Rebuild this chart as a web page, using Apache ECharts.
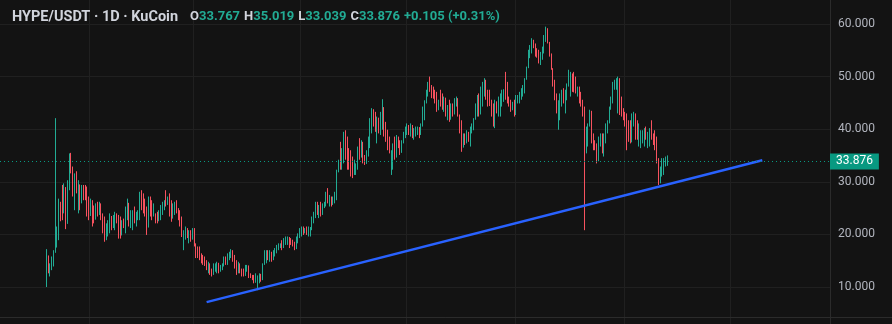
<!DOCTYPE html>
<html>
<head>
<meta charset="utf-8">
<script src="https://cdn.jsdelivr.net/npm/echarts@6/dist/echarts.min.js"></script>
<style>
  html, body { margin: 0; padding: 0; background: #131313; }
  #chart { width: 892px; height: 324px; }
</style>
</head>
<body>
<div id="chart"></div>
<script>
// ---- data (daily candles, HYPE/USDT, KuCoin) ----
const firstOpen = 13.0;
const highs = [
17.2,15.1,14.5,15.8,17.0,42.1,21.5,26.8,26.2,29.4,29.7,28.4,30.3,35.4,35.5,32.9,31.6,32.0,30.3,29.1,
29.4,29.4,29.4,29.1,27.2,26.8,26.5,25.5,25.9,26.2,26.2,25.9,24.0,23.4,22.1,22.7,24.0,23.5,23.7,24.3,
24.0,23.7,23.4,22.7,23.0,25.3,26.8,26.0,24.6,24.6,25.3,24.3,24.6,28.1,28.4,27.8,26.8,25.3,27.2,27.2,
26.5,25.9,24.0,24.3,24.6,25.6,26.2,
26.5,28.4,27.2,27.8,26.5,25.9,26.2,26.5,25.0,24.6,23.4,20.8,21.5,21.2,20.8,20.8,21.2,21.2,18.3,17.7,
17.7,16.4,16.1,15.8,15.1,14.8,14.5,13.5,14.5,14.5,14.8,14.6,14.2,14.5,15.8,15.8,16.4,16.7,17.2,17.0,
16.1,15.1,14.8,14.5,13.5,13.5,14.2,14.2,14.1,12.6,12.3,12.3,12.6,12.2,12.6,12.5,14.5,17.0,17.0,17.0,
17.0,16.7,17.0,17.4,18.0,18.3,18.3,18.9,19.3,19.6,19.6,19.5,
19.3,19.0,18.6,19.6,20.2,21.2,21.5,21.5,21.2,21.5,21.5,21.4,23.4,24.3,26.2,26.2,25.6,26.2,25.9,26.2,
28.1,28.8,27.5,27.2,27.2,28.1,32.3,34.2,37.6,36.4,39.5,39.8,38.6,36.4,36.0,34.8,34.2,33.5,36.7,38.3,
37.9,37.6,35.1,36.0,38.6,42.1,44.0,43.8,43.3,42.4,42.2,43.3,45.7,44.2,41.4,39.9,38.6,36.0,37.3,38.6,
38.9,38.6,37.9,37.9,39.5,40.5,41.1,40.8,41.1,40.8,40.2,
40.5,40.5,40.4,41.1,44.3,45.5,47.5,49.0,50.0,48.4,48.1,47.5,47.1,45.6,47.5,46.8,46.2,46.0,44.6,45.6,
44.9,44.9,45.9,46.2,45.9,42.8,41.7,39.2,39.2,39.8,39.5,40.5,41.1,42.1,44.9,46.5,46.8,48.1,49.0,49.7,
49.4,47.5,47.5,45.6,44.9,45.6,45.3,46.2,46.8,47.5,47.6,50.9,49.0,46.2,45.6,45.2,45.6,46.5,46.5,47.1,
47.8,48.4,49.7,51.9,55.1,56.0,57.3,57.0,56.3,55.4,55.1,
54.7,55.7,57.9,59.5,59.2,56.6,54.4,51.6,49.4,46.8,45.5,46.8,47.5,47.8,47.5,48.7,51.3,50.9,50.6,50.9,
50.0,48.1,48.1,47.1,45.6,44.3,40.5,41.1,43.7,43.5,39.2,37.9,37.3,38.6,39.2,39.2,39.2,41.1,41.7,44.3,
46.2,49.0,49.4,49.7,50.0,49.7,46.2,44.0,43.3,43.0,41.7,41.7,43.0,43.3,43.0,41.7,41.1,39.8,39.8,40.2,
40.5,39.5,40.2,41.7,39.2,39.8,38.6,34.5,32.9,34.5,34.5,34.8,35.019
];
const lows = [
10.0,12.6,12.0,13.2,13.9,16.5,17.5,18.9,22.5,22.7,24.0,21.0,22.0,28.4,31.6,27.2,24.6,27.8,24.0,24.6,
25.9,26.5,26.5,23.4,22.7,23.5,21.5,22.1,22.8,23.4,23.7,22.7,20.2,18.6,18.9,19.6,20.2,20.8,21.2,20.8,
22.1,19.2,19.2,19.8,21.2,20.2,22.7,21.5,21.2,20.8,22.1,21.5,22.7,22.7,24.6,24.0,23.4,19.9,21.3,23.4,
22.7,23.4,22.1,22.1,22.5,22.7,23.7,
24.6,25.3,25.6,23.4,22.4,23.0,23.7,24.0,22.7,21.5,19.5,17.0,19.0,19.3,18.3,18.6,19.0,17.7,15.5,15.5,
15.1,14.5,14.2,14.0,13.2,12.6,12.3,12.0,12.3,12.9,12.6,12.6,12.9,13.2,13.9,14.2,14.2,15.1,15.5,14.8,
13.5,12.3,12.6,12.6,12.0,12.0,12.1,12.9,11.7,11.7,11.3,10.7,10.8,9.4,10.7,11.0,11.3,14.2,14.5,15.1,
14.8,14.8,15.1,15.8,16.4,17.0,17.4,17.0,17.4,18.0,18.0,17.4,
18.0,17.7,17.0,17.2,18.3,19.3,19.6,19.9,20.2,19.9,19.6,19.6,20.8,22.1,23.1,23.7,23.1,23.4,23.7,25.0,
25.3,25.9,25.3,25.3,25.6,25.9,26.5,31.8,32.3,32.3,33.5,34.2,32.3,32.3,31.0,30.7,31.3,31.3,32.3,34.2,
34.6,33.5,33.2,33.4,34.8,36.4,39.2,40.5,39.5,37.3,39.2,38.9,39.9,38.6,37.6,36.0,35.4,31.3,32.3,34.2,
34.6,36.4,35.1,35.5,37.3,38.3,38.9,38.9,38.6,38.3,38.0,
38.6,38.9,38.3,38.9,40.5,41.7,44.9,46.2,47.1,45.9,45.8,44.9,43.3,43.6,44.3,43.7,43.3,42.4,41.7,41.4,
41.8,42.4,42.8,44.3,42.4,39.2,35.7,36.5,37.0,37.3,37.6,36.7,39.2,39.8,41.8,42.4,42.4,42.8,44.3,46.2,
45.6,44.3,44.4,42.4,40.5,40.2,43.0,42.4,42.4,44.3,45.2,45.6,44.9,44.3,43.3,43.6,42.4,42.7,44.9,44.9,
45.6,46.2,46.8,49.4,51.6,53.5,54.4,55.4,53.8,53.6,52.5,
52.2,53.2,54.4,56.6,56.3,53.8,51.3,48.1,45.5,43.0,39.9,41.7,44.3,44.9,43.0,45.5,48.1,46.2,47.1,47.0,
46.8,46.2,44.9,44.3,42.4,20.8,35.4,36.7,40.5,37.3,36.0,36.0,33.5,33.9,36.7,35.4,34.8,37.3,39.2,41.1,
43.7,44.9,47.5,47.5,43.0,42.7,42.4,41.7,40.5,36.0,37.6,37.3,37.5,40.5,38.0,38.0,36.7,36.4,37.3,36.7,
38.0,36.4,36.7,38.0,37.0,36.0,33.5,29.4,29.7,31.0,31.3,32.9,33.039
];
const closes = [
16.0,13.5,14.0,15.5,16.8,19.0,21.0,26.0,25.0,24.0,29.0,22.0,29.5,34.5,32.0,28.0,31.0,28.5,29.5,26.0,
29.0,28.5,27.0,24.0,23.5,26.0,25.5,23.0,25.5,24.0,25.5,23.0,21.0,19.5,21.5,22.0,23.5,21.5,23.0,24.0,
22.5,20.0,19.8,22.0,21.8,24.8,26.0,22.5,24.0,24.2,22.6,24.0,24.3,27.5,25.5,25.0,24.0,21.5,26.5,26.0,
23.5,23.8,23.2,22.8,24.3,25.2,26.0,
26.3,25.6,27.0,24.0,23.0,25.5,26.0,24.5,23.2,22.0,19.8,20.5,21.2,19.6,20.5,19.0,21.0,18.0,16.0,15.8,
15.3,14.8,14.5,14.2,13.5,14.5,12.6,12.3,14.2,14.4,14.6,12.9,14.0,14.3,15.6,14.5,16.2,16.5,17.0,15.2,
13.8,12.6,14.5,12.9,12.3,12.1,14.0,14.1,12.0,11.8,11.5,11.0,11.2,11.8,12.5,11.3,14.3,16.8,16.9,15.5,
16.7,15.2,16.8,17.2,17.8,18.1,18.2,17.5,19.0,19.4,19.5,19.0,
18.3,18.0,17.4,19.3,19.9,21.0,21.3,20.2,21.0,20.1,21.2,21.3,23.2,24.0,25.9,24.0,25.4,23.8,25.7,26.0,
27.9,26.2,27.2,25.6,27.0,27.6,32.0,33.8,32.8,36.0,39.2,34.8,34.0,33.0,31.8,31.3,32.5,33.3,36.4,34.8,
37.5,34.0,33.5,35.8,38.3,41.8,43.6,41.0,40.0,42.0,39.6,43.0,44.0,39.0,38.0,36.4,35.5,35.8,37.0,34.6,
38.6,36.7,35.5,37.6,39.2,40.2,40.8,39.2,40.8,38.6,39.9,
40.1,40.3,39.0,40.9,44.0,45.2,47.2,48.7,47.5,46.3,46.0,45.3,43.8,45.3,44.7,44.1,45.9,42.8,44.3,41.8,
44.6,42.8,45.6,45.9,42.8,39.6,36.5,38.9,37.4,39.5,38.0,40.2,40.8,41.8,44.6,46.2,42.8,47.8,48.7,49.4,
46.0,44.7,44.6,42.8,40.9,45.3,43.4,45.9,46.5,47.2,47.4,46.0,45.3,44.7,43.7,44.9,42.8,46.2,46.3,46.8,
47.5,48.1,49.4,51.6,54.8,55.7,57.0,55.7,54.2,53.9,52.8,
54.4,55.4,57.6,59.0,56.6,54.1,51.6,48.4,45.8,43.3,45.2,46.5,47.2,45.3,47.2,48.4,49.0,50.6,47.5,47.2,
47.0,47.8,45.3,44.6,43.0,37.5,40.2,40.8,43.4,37.8,36.4,36.2,33.9,38.3,38.9,35.8,38.9,40.8,41.4,44.0,
45.9,48.7,49.1,49.4,49.7,43.1,42.8,42.0,40.8,38.0,37.8,37.5,42.7,43.0,38.4,38.2,39.0,39.5,39.6,40.0,
38.3,39.2,40.0,38.3,37.3,36.4,33.9,30.5,32.5,33.0,33.5,33.767,33.876
];
// leading empty days before the first candle, and days shown in total on the time axis
const padDays = 26;
const totalDays = 472;
// month boundaries drawn as vertical grid lines (day index from first candle)
const monthLineDays = [25, 84, 145, 205, 267, 329, 389];
// trend line anchor points (day index, price)
const trendDays = [91, 407];
const trendValues = [7.13, 34.11];
// price axis
const priceTicks = [0, 10, 20, 30, 40, 50, 60, 70];
const lastPrice = 33.876;
const headerName = 'HYPE/USDT · 1D · KuCoin';
const headerOHLC = [['O', '33.767'], ['H', '35.019'], ['L', '33.039'], ['C', '33.876']];
const headerChange = '+0.105 (+0.31%)';

const UP = '#22ab94', DOWN = '#f7525f';
const LABEL_GREEN = '#089981';

const categories = [];
for (let k = 0; k < totalDays; k++) categories.push(String(k - padDays));

const candleData = closes.map((c, i) => {
  const o = i === 0 ? firstOpen : closes[i - 1];
  const h = Math.max(highs[i], o, c);
  const l = Math.min(lows[i], o, c);
  return [i + padDays, o, c, l, h];
});

const gridSet = new Set(monthLineDays.map(d => d + padDays));

let headerText = '{n|' + headerName + '}{sp|}';
headerOHLC.forEach(([k, v]) => { headerText += '{k|' + k + '}{g|' + v + '}{sp2|}'; });
headerText += '{g|' + headerChange + '}';

const chart = echarts.init(document.getElementById('chart'), null, { renderer: 'canvas' });
const FONT = 'Roboto, "Noto Sans", sans-serif';

chart.setOption({
  backgroundColor: '#131313',
  animation: false,
  title: {
    left: 7, top: 3,
    text: headerText,
    textStyle: {
      fontFamily: FONT,
      rich: {
        n: { fontSize: 14.5, color: '#d1d4dc', fontFamily: FONT },
        sp: { width: 12 },
        sp2: { width: 4 },
        k: { fontSize: 13, color: '#d1d4dc', fontFamily: FONT },
        g: { fontSize: 13, color: UP, fontFamily: FONT }
      }
    }
  },
  grid: [
    { left: 0, top: -28.6, width: 830, height: 368.2, containLabel: false, outerBoundsMode: 'none' },
    { left: 0, right: 0, top: 0, height: 317, outerBoundsMode: 'none' }
  ],
  xAxis: [
    {
      type: 'category', gridIndex: 0, data: categories, boundaryGap: true,
      axisLine: { show: false }, axisTick: { show: false }, axisLabel: { show: false },
      splitLine: {
        show: true,
        interval: (index) => gridSet.has(index),
        lineStyle: { color: '#202020', width: 1 }
      }
    },
    {
      type: 'category', gridIndex: 1, data: ['x'],
      axisLine: { show: true, lineStyle: { color: '#2b2b2b', width: 1 } },
      axisTick: { show: false }, axisLabel: { show: false }, splitLine: { show: false }
    }
  ],
  yAxis: [
    {
      type: 'value', gridIndex: 0, position: 'right',
      min: priceTicks[0], max: priceTicks[priceTicks.length - 1], interval: 10,
      axisLine: { show: true, lineStyle: { color: '#2b2b2b', width: 1 } },
      axisTick: { show: false },
      axisLabel: {
        color: '#b2b5be', fontSize: 12, margin: 8, fontFamily: FONT,
        formatter: (v) => v.toFixed(3)
      },
      splitLine: { show: true, lineStyle: { color: '#202020', width: 1 } }
    },
    { type: 'value', gridIndex: 1, show: false }
  ],
  series: [
    {
      type: 'candlestick',
      xAxisIndex: 0, yAxisIndex: 0,
      data: candleData,
      encode: { x: 0, y: [1, 2, 3, 4] },
      barWidth: 0.2,
      itemStyle: {
        color: UP, color0: DOWN, borderColor: UP, borderColor0: DOWN, borderWidth: 1
      },
      markLine: {
        silent: true,
        symbol: ['none', 'none'],
        data: [{ yAxis: lastPrice }],
        lineStyle: { color: LABEL_GREEN, type: [1, 3], width: 1 },
        label: {
          show: true, position: 'end', distance: 0,
          formatter: () => lastPrice.toFixed(3),
          backgroundColor: LABEL_GREEN, color: '#ffffff',
          fontSize: 12, fontFamily: FONT, padding: [2, 6, 2, 6]
        }
      },
      z: 2
    },
    {
      type: 'line',
      xAxisIndex: 0, yAxisIndex: 0,
      data: trendDays.map((d, i) => [d + padDays, trendValues[i]]),
      symbol: 'none',
      lineStyle: { color: '#2962ff', width: 2.5 },
      z: 3
    }
  ]
});
</script>
</body>
</html>
